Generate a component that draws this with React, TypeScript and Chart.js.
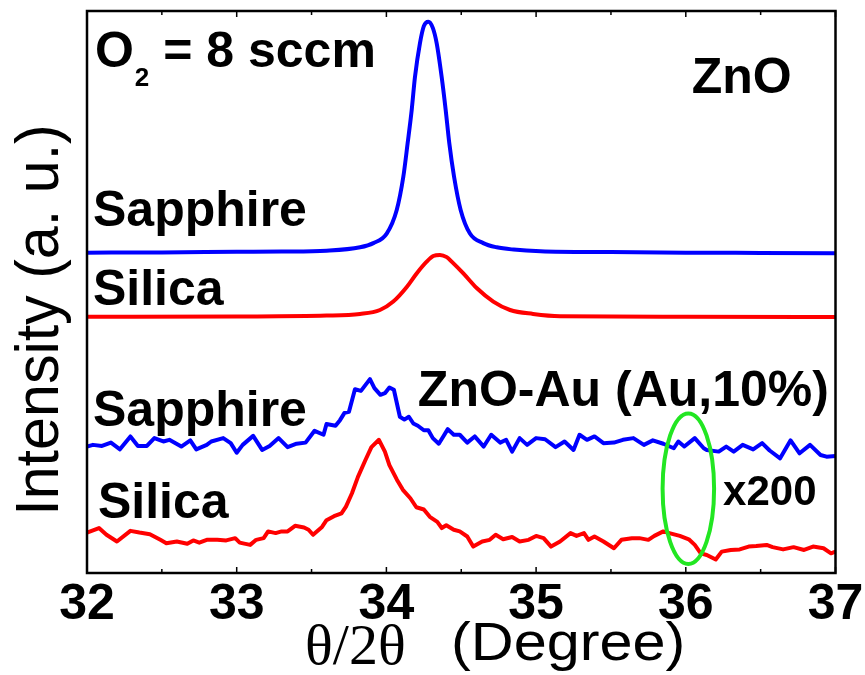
import React, { useEffect, useRef } from 'react';
import { Chart, registerables } from 'chart.js';

Chart.register(...registerables);

// 2θ axis
const xMin = 32;
const xMax = 37;
const xTickValues = [32, 33, 34, 35, 36, 37];
const xMinorTickValues = [32.5, 33.5, 34.5, 35.5, 36.5];

// [2θ (deg), intensity (a.u., offset for display)]
const znoSapphire: [number, number][] = [
  [32.0, 57.0], [32.5, 57.05], [33.0, 57.15], [33.3, 57.2], [33.6, 57.35], [33.824, 57.95],
  [33.913, 58.7], [34.002, 60.4], [34.069, 64.6], [34.113, 70.5], [34.142, 76.5], [34.169, 82.4],
  [34.191, 88.3], [34.224, 94.25], [34.250, 97.3], [34.280, 98.1], [34.31, 97.0], [34.336, 94.25],
  [34.369, 88.3], [34.396, 82.4], [34.420, 76.5], [34.452, 70.5], [34.496, 64.6], [34.558, 60.4],
  [34.647, 58.7], [34.737, 57.95], [34.85, 57.55], [35.03, 57.25], [35.5, 57.1], [36.0, 57.0],
  [36.5, 56.95], [37.0, 56.9],
];

const znoSilica: [number, number][] = [
  [32.0, 45.6], [33.0, 45.65], [33.6, 45.8], [33.824, 46.1], [33.957, 46.8], [34.046, 48.3],
  [34.136, 50.9], [34.202, 53.3], [34.269, 55.4], [34.313, 56.4], [34.358, 56.6], [34.403, 56.2],
  [34.436, 55.4], [34.514, 53.3], [34.603, 50.7], [34.714, 48.3], [34.826, 46.8], [34.98, 46.1],
  [35.16, 45.7], [36.0, 45.6], [37.0, 45.55],
];

const auSapphire: [number, number][] = [
  [32.00, 22.5], [32.04, 22.8], [32.10, 22.6], [32.16, 23.2], [32.22, 22.0], [32.29, 24.3],
  [32.34, 22.6], [32.40, 22.6], [32.45, 24.0], [32.51, 23.4], [32.55, 23.7], [32.63, 22.5],
  [32.69, 23.6], [32.73, 22.0], [32.80, 22.8], [32.83, 23.4], [32.91, 24.0], [32.96, 23.1],
  [33.00, 21.4], [33.04, 22.8], [33.11, 24.4], [33.17, 21.9], [33.22, 22.6], [33.28, 24.0],
  [33.34, 22.4], [33.40, 23.0], [33.46, 23.2], [33.52, 25.3], [33.58, 24.6], [33.60, 26.5],
  [33.66, 26.2], [33.69, 27.2], [33.72, 28.5], [33.75, 28.7], [33.79, 32.7], [33.83, 32.4],
  [33.89, 34.5], [33.92, 32.9], [33.96, 31.7], [33.99, 32.0], [34.02, 33.0], [34.05, 32.6],
  [34.09, 27.8], [34.12, 27.3], [34.15, 27.8], [34.18, 26.6], [34.21, 26.2], [34.25, 25.4],
  [34.28, 25.4], [34.31, 24.0], [34.35, 23.0], [34.38, 24.3], [34.41, 25.6], [34.45, 24.6],
  [34.49, 24.6], [34.54, 23.2], [34.59, 24.3], [34.65, 22.5], [34.70, 24.6], [34.76, 23.2],
  [34.80, 23.7], [34.84, 21.6], [34.89, 24.0], [34.94, 22.8], [35.00, 24.0], [35.06, 23.8],
  [35.13, 22.4], [35.19, 23.4], [35.25, 21.9], [35.29, 24.6], [35.34, 23.7], [35.39, 24.3],
  [35.45, 23.1], [35.52, 23.2], [35.58, 23.7], [35.65, 24.0], [35.72, 22.8], [35.78, 23.6],
  [35.85, 23.0], [35.92, 22.2], [35.95, 23.4], [35.99, 22.5], [36.06, 24.0], [36.12, 22.2],
  [36.14, 21.9], [36.22, 21.6], [36.27, 22.5], [36.32, 21.6], [36.38, 22.8], [36.45, 22.0],
  [36.51, 23.1], [36.56, 21.8], [36.63, 20.4], [36.70, 23.6], [36.76, 21.3], [36.83, 22.8],
  [36.90, 21.0], [36.94, 20.7], [37.00, 20.8],
];

const auSilica: [number, number][] = [
  [32.00, 7.2], [32.08, 8.0], [32.13, 6.8], [32.20, 5.6], [32.29, 7.5], [32.35, 7.2],
  [32.42, 6.9], [32.49, 5.9], [32.53, 5.3], [32.60, 5.6], [32.67, 5.2], [32.71, 5.8],
  [32.75, 5.4], [32.80, 5.9], [32.87, 5.9], [32.93, 5.8], [32.99, 6.2], [33.02, 5.4],
  [33.09, 5.0], [33.13, 5.9], [33.18, 6.2], [33.21, 7.4], [33.26, 7.1], [33.30, 7.4],
  [33.34, 7.4], [33.39, 8.4], [33.45, 8.1], [33.48, 7.7], [33.51, 6.8], [33.57, 8.2],
  [33.60, 9.4], [33.65, 10.1], [33.70, 10.6], [33.73, 11.8], [33.77, 14.2], [33.81, 17.1],
  [33.86, 20.1], [33.90, 22.4], [33.95, 23.7], [33.99, 21.6], [34.02, 19.2], [34.07, 16.6],
  [34.11, 14.8], [34.16, 13.3], [34.20, 11.7], [34.25, 11.3], [34.29, 10.0], [34.34, 9.1],
  [34.37, 8.0], [34.40, 8.5], [34.45, 7.7], [34.49, 7.4], [34.54, 6.5], [34.58, 4.7],
  [34.64, 5.6], [34.69, 5.9], [34.73, 6.8], [34.78, 6.0], [34.84, 6.4], [34.89, 5.6],
  [34.95, 5.9], [35.00, 6.6], [35.05, 6.2], [35.10, 4.7], [35.16, 5.6], [35.23, 7.1],
  [35.27, 6.6], [35.32, 7.1], [35.35, 5.9], [35.39, 6.5], [35.45, 5.6], [35.52, 4.4],
  [35.57, 5.9], [35.64, 6.2], [35.69, 6.2], [35.75, 5.9], [35.79, 6.6], [35.85, 7.4],
  [35.89, 7.1], [35.96, 6.6], [36.02, 6.0], [36.06, 5.0], [36.10, 3.5], [36.14, 3.2],
  [36.20, 2.4], [36.24, 3.8], [36.30, 4.1], [36.36, 4.2], [36.42, 4.7], [36.47, 4.8],
  [36.54, 5.0], [36.58, 4.6], [36.65, 4.2], [36.72, 4.6], [36.79, 4.1], [36.85, 4.7],
  [36.92, 4.4], [36.97, 3.5], [37.00, 3.8],
];

// text annotations, anchored in data coordinates (left x, baseline y)
const curveLabels = [
  { text: 'Sapphire', x: 32.04, y: 61.7 },
  { text: 'Silica', x: 32.04, y: 47.7 },
  { text: 'ZnO', x: 36.04, y: 85.4 },
  { text: 'Sapphire', x: 32.04, y: 26.2 },
  { text: 'Silica', x: 32.073, y: 9.8 },
  { text: 'ZnO-Au (Au,10%)', x: 34.21, y: 29.7 },
];
const gasLabel = { main: 'O', sub: '2', rest: ' = 8 sccm', x: 32.053, y: 90.0 };
const scaleLabel = { text: 'x200', x: 36.249, y: 12.1 };
const highlight = { cx: 36.017, cy: 15.0, rx: 0.172, ry: 13.4 };

const SANS = "'Liberation Sans', Arial, Helvetica, sans-serif";
const SERIF = "'Liberation Serif', 'Times New Roman', serif";

const fillScaled = (ctx: any, text: string, x: number, y: number, sx: number) => {
  ctx.save();
  ctx.translate(x, y);
  ctx.scale(sx, 1);
  ctx.fillText(text, 0, 0);
  ctx.restore();
};

const decorPlugin = {
  id: 'decor',
  afterDatasetsDraw(chart: any) {
    const { ctx, chartArea, scales } = chart;
    const xs = scales.x;
    const ys = scales.y;
    const { left, right, top, bottom } = chartArea;
    ctx.save();

    // frame
    ctx.strokeStyle = '#000';
    ctx.lineWidth = 2.5;
    ctx.strokeRect(left, top, right - left, bottom - top);

    // inward ticks, bottom and top
    ctx.lineWidth = 1.5;
    const drawTick = (v: number, len: number) => {
      const px = xs.getPixelForValue(v);
      ctx.beginPath();
      ctx.moveTo(px, bottom);
      ctx.lineTo(px, bottom - len);
      ctx.moveTo(px, top);
      ctx.lineTo(px, top + len);
      ctx.stroke();
    };
    xTickValues.forEach((v) => drawTick(v, 6));
    xMinorTickValues.forEach((v) => drawTick(v, 4));

    // highlight ellipse
    ctx.strokeStyle = '#22e622';
    ctx.lineWidth = 4;
    const cx = xs.getPixelForValue(highlight.cx);
    const cy = ys.getPixelForValue(highlight.cy);
    const rx = Math.abs(xs.getPixelForValue(highlight.cx + highlight.rx) - cx);
    const ry = Math.abs(ys.getPixelForValue(highlight.cy + highlight.ry) - cy);
    ctx.beginPath();
    ctx.ellipse(cx, cy, rx, ry, 0, 0, Math.PI * 2);
    ctx.stroke();

    // labels
    ctx.fillStyle = '#000';
    ctx.textAlign = 'left';
    ctx.textBaseline = 'alphabetic';
    ctx.font = `bold 50px ${SANS}`;
    curveLabels.forEach((l) => {
      ctx.fillText(l.text, xs.getPixelForValue(l.x), ys.getPixelForValue(l.y));
    });

    // O2 = 8 sccm
    let gx = xs.getPixelForValue(gasLabel.x);
    const gy = ys.getPixelForValue(gasLabel.y);
    ctx.font = `bold 50px ${SANS}`;
    ctx.fillText(gasLabel.main, gx, gy);
    gx += ctx.measureText(gasLabel.main).width + 1;
    ctx.font = `bold 26px ${SANS}`;
    ctx.fillText(gasLabel.sub, gx, gy + 19);
    gx += ctx.measureText(gasLabel.sub).width;
    ctx.font = `bold 50px ${SANS}`;
    ctx.fillText(gasLabel.rest, gx, gy);

    // x200
    ctx.font = `bold 42px ${SANS}`;
    ctx.fillText(scaleLabel.text, xs.getPixelForValue(scaleLabel.x), ys.getPixelForValue(scaleLabel.y));

    // x axis title
    ctx.font = `58px ${SERIF}`;
    ctx.fillText('θ/2θ', 305, bottom + 91);
    ctx.font = `54px ${SANS}`;
    fillScaled(ctx, '(Degree)', 451, bottom + 87, 1.1);

    // y axis title
    ctx.save();
    ctx.translate(58, (top + bottom) / 2 + 28);
    ctx.rotate(-Math.PI / 2);
    ctx.scale(0.955, 1);
    ctx.textAlign = 'center';
    ctx.font = `62px ${SANS}`;
    ctx.fillText('Intensity (a. u.)', 0, 0);
    ctx.restore();

    ctx.restore();
  },
};

const toPoints = (arr: [number, number][]) => arr.map(([x, y]) => ({ x, y }));

export default function App() {
  const ref = useRef<HTMLCanvasElement>(null);

  useEffect(() => {
    if (!ref.current) return;
    const chart = new Chart(ref.current, {
      type: 'line',
      data: {
        datasets: [
          {
            label: 'ZnO / Sapphire',
            data: toPoints(znoSapphire),
            borderColor: '#0000ff',
            borderWidth: 4,
            pointRadius: 0,
            cubicInterpolationMode: 'monotone',
            borderJoinStyle: 'round',
          },
          {
            label: 'ZnO / Silica',
            data: toPoints(znoSilica),
            borderColor: '#ff0000',
            borderWidth: 4,
            pointRadius: 0,
            cubicInterpolationMode: 'monotone',
            borderJoinStyle: 'round',
          },
          {
            label: 'ZnO-Au / Sapphire',
            data: toPoints(auSapphire),
            borderColor: '#0000ff',
            borderWidth: 4,
            pointRadius: 0,
            tension: 0,
            borderJoinStyle: 'round',
          },
          {
            label: 'ZnO-Au / Silica',
            data: toPoints(auSilica),
            borderColor: '#ff0000',
            borderWidth: 4,
            pointRadius: 0,
            tension: 0,
            borderJoinStyle: 'round',
          },
        ],
      },
      options: {
        responsive: false,
        animation: false,
        devicePixelRatio: 1,
        layout: { padding: { left: 87, right: 29.5, top: 11, bottom: 38 } },
        plugins: { legend: { display: false }, tooltip: { enabled: false } },
        scales: {
          x: {
            type: 'linear',
            min: xMin,
            max: xMax,
            afterBuildTicks: (axis: any) => {
              axis.ticks = xTickValues.map((v) => ({ value: v }));
            },
            grid: { display: false, drawTicks: false, tickLength: 0 },
            border: { display: false },
            ticks: {
              color: '#000',
              padding: 0,
              maxRotation: 0,
              autoSkip: false,
              font: { family: SANS, size: 50, weight: 'bold', lineHeight: 1.28 },
            },
          },
          y: { type: 'linear', min: 0, max: 100, display: false },
        },
      },
      plugins: [decorPlugin],
    } as any);
    return () => chart.destroy();
  }, []);

  return (
    <div style={{ position: 'absolute', left: 0, top: 0, width: 865, height: 675, background: '#fff' }}>
      <canvas ref={ref} width={865} height={675} style={{ display: 'block' }} />
    </div>
  );
}
